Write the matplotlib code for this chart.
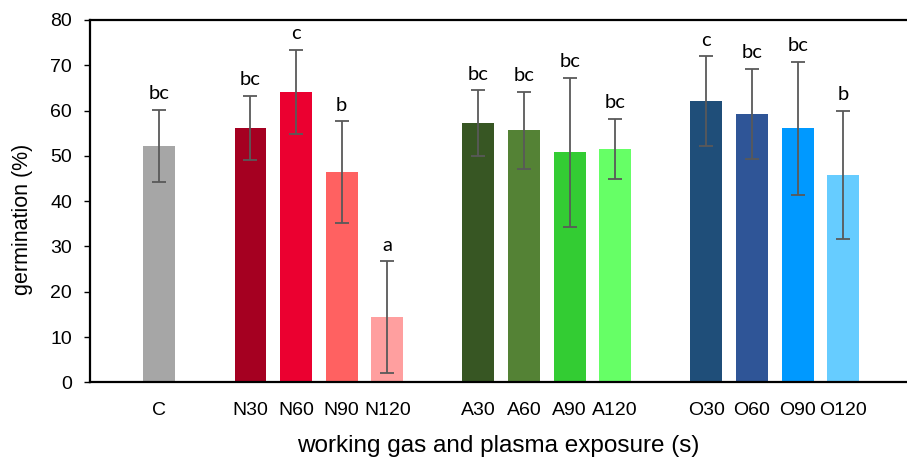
import matplotlib
matplotlib.use("Agg")
import matplotlib.pyplot as plt
import numpy as np

categories = ["C", "N30", "N60", "N90", "N120", "A30", "A60", "A90", "A120",
              "O30", "O60", "O90", "O120"]
positions = [0, 2, 3, 4, 5, 7, 8, 9, 10, 12, 13, 14, 15]
germination = [52.2, 56.1, 64.1, 46.4, 14.4, 57.2, 55.7, 50.8, 51.5, 62.1, 59.2, 56.1, 45.8]
errors = [8.0, 7.1, 9.3, 11.2, 12.3, 7.3, 8.5, 16.5, 6.7, 9.9, 10.0, 14.7, 14.2]
letters = ["bc", "bc", "c", "b", "a", "bc", "bc", "bc", "bc", "c", "bc", "bc", "b"]
colors = ["#a6a6a6", "#a50021", "#eb0030", "#ff6161", "#ff9f9f",
          "#375623", "#548235", "#33cc33", "#66ff66",
          "#1f4e79", "#2f5597", "#0099ff", "#66ccff"]

fig = plt.figure(figsize=(9.07, 4.59), dpi=100)
ax = fig.add_axes([90/907, 1 - 382.3/459, 1 - 90/907, (382.3 - 20)/459])

ax.bar(positions, germination, width=0.70, color=colors, zorder=2)
ax.errorbar(positions, germination, yerr=errors, fmt="none", ecolor="#595959",
            elinewidth=1.3, capsize=5, capthick=1.3, zorder=3)

for x, y, e, t in zip(positions, germination, errors, letters):
    ax.annotate(t, (x, y + e), xytext=(0, 5.5), textcoords="offset points",
                ha="center", va="bottom", fontsize=14.5, family="Lato")

ax.set_xlim(-1.52, 16.4)
ax.set_ylim(0, 80)
ax.set_yticks(np.arange(0, 81, 10))
ax.set_xticks(positions)
ax.set_xticklabels(categories)
ax.tick_params(axis="x", length=0, pad=14, labelsize=14)
ax.tick_params(axis="y", length=4, width=1, direction="out", pad=9, labelsize=14)
for lab in ax.get_xticklabels() + ax.get_yticklabels():
    lab.set_family("Liberation Sans")

for s in ["left", "bottom", "top"]:
    ax.spines[s].set_linewidth(1.6)
    ax.spines[s].set_color("black")
ax.spines["right"].set_visible(False)

ax.set_ylabel("germination (%)", fontsize=15.5, family="Liberation Sans")
ax.yaxis.label.set_va("center")
ax.yaxis.set_label_coords(-67/817, 0.45)
ax.set_xlabel("working gas and plasma exposure (s)", fontsize=17.5,
              family="Liberation Sans", labelpad=12)

fig.savefig("out.png", dpi=100)
